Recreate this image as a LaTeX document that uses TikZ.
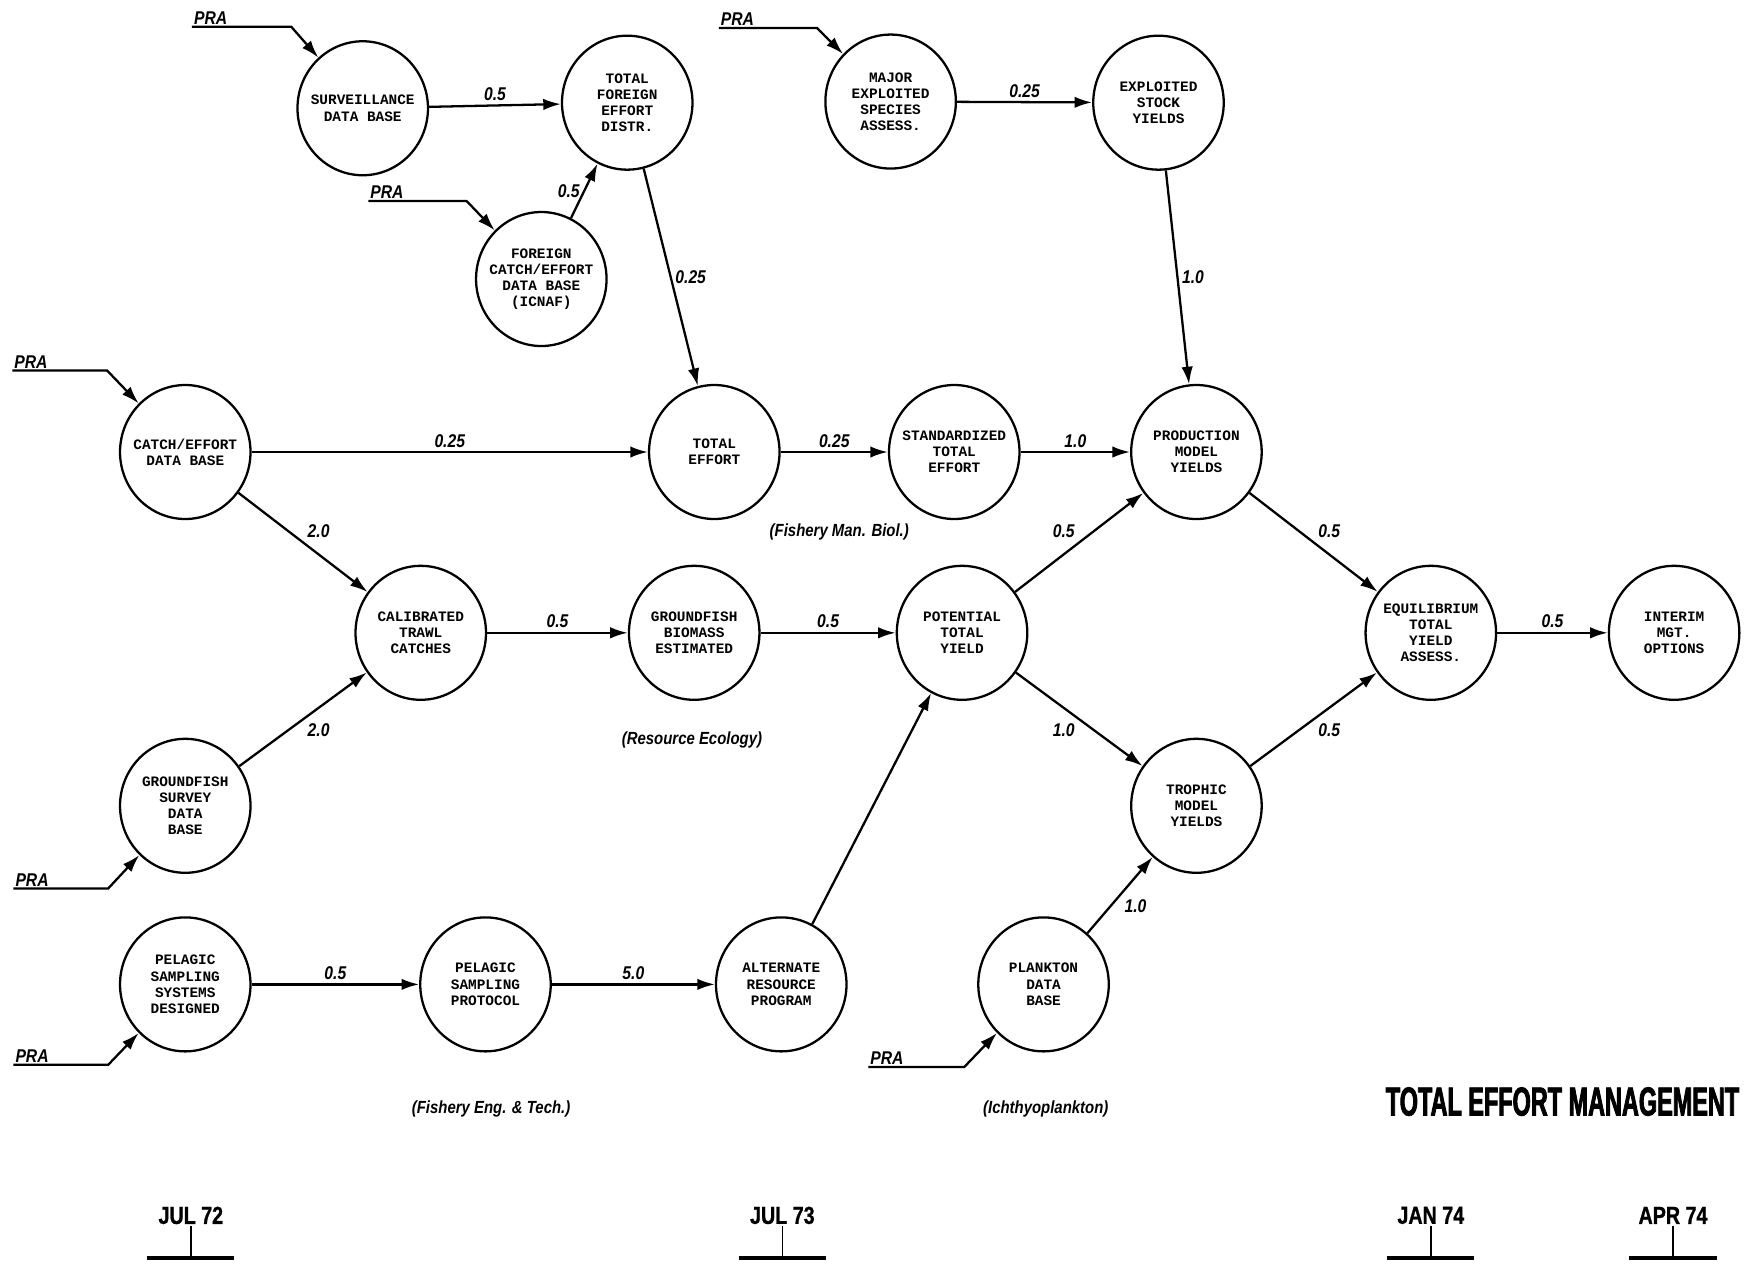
\documentclass[tikz,border=0pt]{standalone}
\usepackage{fontspec}
\newfontfamily\stepfont{Liberation Mono}
\newfontfamily\labelfont{Liberation Sans}[FakeStretch=0.85]
\newfontfamily\titlefont{Liberation Sans}[FakeStretch=0.58, FakeBold=2]
\newfontfamily\datefont{Liberation Sans}[FakeStretch=0.8, FakeBold=1]
\usetikzlibrary{arrows.meta}
\usetikzlibrary{shapes.geometric}
\tikzset{
	activity/.style={draw, ellipse, line width=1.3pt, minimum width=2.61cm, minimum height=2.68cm,
		inner xsep=-8pt, inner ysep=0pt, align=center,
		font=\stepfont\bfseries\fontsize{8.2}{9.2}\selectfont},
	link/.style={line width=1.3pt, -{Latex[length=10pt,width=6.5pt]}},
	weight/.style={inner sep=2pt, font=\labelfont\bfseries\itshape\fontsize{10.5}{12}\selectfont},
	source/.style={anchor=south west, inner sep=1pt, font=\labelfont\bfseries\itshape\fontsize{10.5}{12}\selectfont},
	group/.style={font=\labelfont\bfseries\itshape\fontsize{10}{12}\selectfont},
	milestone/.style={inner sep=1pt, font=\datefont\bfseries\fontsize{14}{16}\selectfont}
}
\newcommand{\drawLinkArrow}[4]{
	\draw[link] (#1) -- node[weight,#4] (#1-#2) {#3} (#2);
}
\newcommand{\drawSourceArrow}[3]{
	\node[source] (#1-pra) at (#1) {PRA};
	\draw[link] (#1) -- (#2) -- (#3);
}
\newcommand{\drawMilestone}[3]{
	\node[milestone] (#1) at (#2,1089) {#3};
	\draw[line width=1pt] (#1) -- (#2,1127);
	\draw[line width=2.2pt] ({#2-39},1127) -- ({#2+39},1127);
}

\begin{document}
\begin{tikzpicture}[x=0.022321cm, y=-0.022321cm]

		\useasboundingbox (0,0) rectangle (1568,1133);

		% activities
		\node[activity] (surv) at (325,97) {SURVEILLANCE\\DATA BASE};
		\node[activity] (totfor) at (562,92) {TOTAL\\FOREIGN\\EFFORT\\DISTR.};
		\node[activity] (forcat) at (485,250) {FOREIGN\\CATCH/EFFORT\\DATA BASE\\(ICNAF)};
		\node[activity] (major) at (798,91) {MAJOR\\EXPLOITED\\SPECIES\\ASSESS.};
		\node[activity] (exstock) at (1038,92) {EXPLOITED\\STOCK\\YIELDS};
		\node[activity] (catcheff) at (166,405) {CATCH/EFFORT\\DATA BASE};
		\node[activity] (toteff) at (640,405) {TOTAL\\EFFORT};
		\node[activity] (stdeff) at (855,405) {STANDARDIZED\\TOTAL\\EFFORT};
		\node[activity] (prodmod) at (1072,405) {PRODUCTION\\MODEL\\YIELDS};
		\node[activity] (calib) at (377,567) {CALIBRATED\\TRAWL\\CATCHES};
		\node[activity] (biomass) at (622,567) {GROUNDFISH\\BIOMASS\\ESTIMATED};
		\node[activity] (pottot) at (862,567) {POTENTIAL\\TOTAL\\YIELD};
		\node[activity] (equil) at (1282,567) {EQUILIBRIUM\\TOTAL\\YIELD\\ASSESS.};
		\node[activity] (interim) at (1500,567) {INTERIM\\MGT.\\OPTIONS};
		\node[activity] (gsurvey) at (166,722) {GROUNDFISH\\SURVEY\\DATA\\BASE};
		\node[activity] (trophic) at (1072,722) {TROPHIC\\MODEL\\YIELDS};
		\node[activity] (pelsys) at (166,882) {PELAGIC\\SAMPLING\\SYSTEMS\\DESIGNED};
		\node[activity] (pelprot) at (435,882) {PELAGIC\\SAMPLING\\PROTOCOL};
		\node[activity] (altres) at (700,882) {ALTERNATE\\RESOURCE\\PROGRAM};
		\node[activity] (plankton) at (935,882) {PLANKTON\\DATA\\BASE};

		% PRA inputs
		\coordinate (P1) at (172,24);
		\coordinate (P1_B) at (261,24);
		\coordinate (P2) at (330,180);
		\coordinate (P2_B) at (418,180);
		\coordinate (P3) at (644,25);
		\coordinate (P3_B) at (732,25);
		\coordinate (P4) at (11,332);
		\coordinate (P4_B) at (96,332);
		\coordinate (P5) at (12,796);
		\coordinate (P5_B) at (97,796);
		\coordinate (P6) at (12,954);
		\coordinate (P6_B) at (97,954);
		\coordinate (P7) at (778,956);
		\coordinate (P7_B) at (864,956);

		\drawSourceArrow{P1}{P1_B}{surv}
		\drawSourceArrow{P2}{P2_B}{forcat}
		\drawSourceArrow{P3}{P3_B}{major}
		\drawSourceArrow{P4}{P4_B}{catcheff}
		\drawSourceArrow{P5}{P5_B}{gsurvey}
		\drawSourceArrow{P6}{P6_B}{pelsys}
		\drawSourceArrow{P7}{P7_B}{plankton}

		% links
		\drawLinkArrow{surv}{totfor}{0.5}{above}
		\drawLinkArrow{forcat}{totfor}{0.5}{left}
		\drawLinkArrow{totfor}{toteff}{0.25}{right}
		\drawLinkArrow{major}{exstock}{0.25}{above}
		\drawLinkArrow{exstock}{prodmod}{1.0}{right}
		\drawLinkArrow{catcheff}{toteff}{0.25}{above}
		\drawLinkArrow{toteff}{stdeff}{0.25}{above}
		\drawLinkArrow{stdeff}{prodmod}{1.0}{above}
		\drawLinkArrow{catcheff}{calib}{2.0}{above right}
		\drawLinkArrow{gsurvey}{calib}{2.0}{below right}
		\drawLinkArrow{calib}{biomass}{0.5}{above}
		\drawLinkArrow{biomass}{pottot}{0.5}{above}
		\drawLinkArrow{pottot}{prodmod}{0.5}{above left}
		\drawLinkArrow{pottot}{trophic}{1.0}{below left}
		\drawLinkArrow{prodmod}{equil}{0.5}{above right}
		\drawLinkArrow{trophic}{equil}{0.5}{below right}
		\drawLinkArrow{equil}{interim}{0.5}{above}
		\drawLinkArrow{pelsys}{pelprot}{0.5}{above}
		\drawLinkArrow{pelprot}{altres}{5.0}{above}
		\drawLinkArrow{plankton}{trophic}{1.0}{below right}
		\draw[link] (altres) -- (pottot);

		% groups
		\node[group] (fmb) at (752,477) {(Fishery Man. Biol.)};
		\node[group] (reco) at (620,663) {(Resource Ecology)};
		\node[group] (fet) at (440,994) {(Fishery Eng. \& Tech.)};
		\node[group] (ichthyo) at (937,994) {(Ichthyoplankton)};

		\node[font=\titlefont\bfseries\fontsize{23}{26}\selectfont] (title) at (1400,987) {TOTAL EFFORT MANAGEMENT};

		% time scale
		\drawMilestone{jul72}{171}{JUL 72}
		\drawMilestone{jul73}{701}{JUL 73}
		\drawMilestone{jan74}{1282}{JAN 74}
		\drawMilestone{apr74}{1499}{APR 74}

	\end{tikzpicture}
\end{document}
